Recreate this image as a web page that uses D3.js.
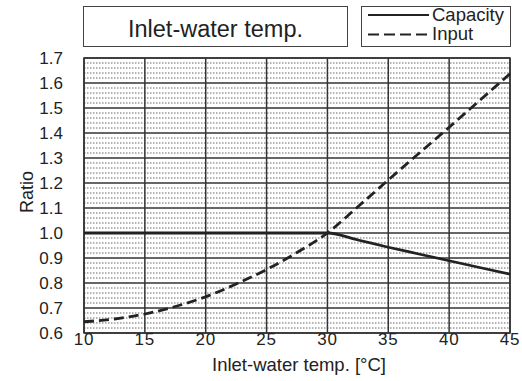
<!DOCTYPE html>
<html><head><meta charset="utf-8">
<script src="https://cdn.jsdelivr.net/npm/d3@7/dist/d3.min.js"></script>
<style>body{margin:0;background:#fff}svg{display:block}text{font-family:"Liberation Sans",Arial,sans-serif;fill:#222}</style>
</head><body><svg id="c" width="522" height="381"></svg>
<script>
const xTicks = [10,15,20,25,30,35,40,45];
const yTicks = [0.6,0.7,0.8,0.9,1.0,1.1,1.2,1.3,1.4,1.5,1.6,1.7];
const tempX = [10,12.5,15,17.5,20,22.5,25,27.5,30,32.5,35,37.5,40,42.5,45];
const capacity = [1.0,1.0,1.0,1.0,1.0,1.0,1.0,1.0,1.0,0.972,0.943,0.916,0.889,0.862,0.835];
const input = [0.645,0.656,0.676,0.706,0.745,0.796,0.854,0.922,1.0,1.105,1.212,1.318,1.423,1.53,1.637];
const titleText = "Inlet-water temp.";
const xLabel = "Inlet-water temp. [°C]";
const yLabel = "Ratio";
const legendNames = ["Capacity","Input"];

const svg = d3.select("#c");
const L=84, R=510, T=58, B=333;
const x = d3.scaleLinear().domain([10,45]).range([L,R]);
const y = d3.scaleLinear().domain([0.6,1.7]).range([B,T]);

// minor dotted lines
const minor = d3.range(0.62,1.7,0.02).filter(v=>Math.abs(Math.round(v*10)-v*10)>0.01);
svg.append("g").selectAll("line").data(minor).join("line")
  .attr("x1",L).attr("x2",R).attr("y1",d=>y(d)).attr("y2",d=>y(d))
  .attr("stroke","#666").attr("stroke-width",1).attr("stroke-dasharray","1.5,1.5");

// major grid
svg.append("g").selectAll("line").data(yTicks).join("line")
  .attr("x1",L).attr("x2",R).attr("y1",d=>y(d)).attr("y2",d=>y(d))
  .attr("stroke","#333").attr("stroke-width",1.5);
svg.append("g").selectAll("line").data(xTicks).join("line")
  .attr("y1",T).attr("y2",B).attr("x1",d=>x(d)).attr("x2",d=>x(d))
  .attr("stroke","#333").attr("stroke-width",1.5);
svg.append("rect").attr("x",L).attr("y",T).attr("width",R-L).attr("height",B-T)
  .attr("fill","none").attr("stroke","#333").attr("stroke-width",1.5);

// axes labels
svg.append("g").selectAll("text").data(yTicks).join("text")
  .attr("x",63).attr("y",d=>y(d)).attr("dy","0.36em").attr("text-anchor","end")
  .attr("font-size",17).text(d=>d.toFixed(1));
svg.append("g").selectAll("text").data(xTicks).join("text")
  .attr("x",d=>x(d)).attr("y",345).attr("text-anchor","middle")
  .attr("font-size",17).attr("letter-spacing",0.8).text(d=>d);
svg.append("text").attr("x",299).attr("y",371).attr("text-anchor","middle").attr("font-size",18.5).text(xLabel);
svg.append("text").attr("transform","translate(33,192) rotate(-90)").attr("text-anchor","middle").attr("font-size",18).text(yLabel);

// lines
const line = d3.line().curve(d3.curveMonotoneX);
svg.append("path").attr("d",line(tempX.map((t,i)=>[x(t),y(capacity[i])])))
  .attr("fill","none").attr("stroke","#222").attr("stroke-width",2.8);
svg.append("path").attr("d",line(tempX.map((t,i)=>[x(t),y(input[i])])))
  .attr("fill","none").attr("stroke","#222").attr("stroke-width",2.8).attr("stroke-dasharray","10,5");

// title box
svg.append("rect").attr("x",83.5).attr("y",6.5).attr("width",264).attr("height",40)
  .attr("fill","#fff").attr("stroke","#444").attr("stroke-width",1);
svg.append("text").attr("x",215.5).attr("y",36.5).attr("text-anchor","middle").attr("font-size",23.5).text(titleText);

// legend
svg.append("rect").attr("x",361.5).attr("y",6.5).attr("width",149).attr("height",40)
  .attr("fill","#fff").attr("stroke","#444").attr("stroke-width",1);
svg.append("line").attr("x1",368).attr("x2",429).attr("y1",15).attr("y2",15).attr("stroke","#222").attr("stroke-width",2);
svg.append("line").attr("x1",368).attr("x2",429).attr("y1",34.5).attr("y2",34.5).attr("stroke","#222").attr("stroke-width",2).attr("stroke-dasharray","11,5");
svg.append("text").attr("x",432).attr("y",20.5).attr("font-size",18.5).text(legendNames[0]);
svg.append("text").attr("x",432).attr("y",40).attr("font-size",18.5).text(legendNames[1]);
</script></body></html>
